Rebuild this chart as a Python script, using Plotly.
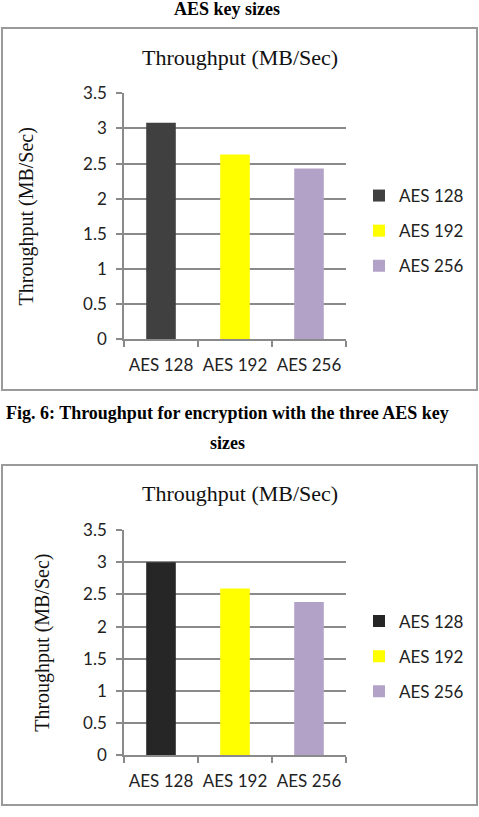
import plotly.graph_objects as go

W, H = 479, 817

categories = ["AES 128", "AES 192", "AES 256"]
top_values = [3.08, 2.63, 2.43]      # Fig. 6 chart (upper)
bottom_values = [3.00, 2.59, 2.38]   # lower chart
y_ticks = [0, 0.5, 1, 1.5, 2, 2.5, 3, 3.5]
y_tick_labels = ["0", "0.5", "1", "1.5", "2", "2.5", "3", "3.5"]
chart_title = "Throughput (MB/Sec)"
y_title = "Throughput (MB/Sec)"
caption_top = "AES key sizes"
caption_mid_1 = "Fig. 6: Throughput for encryption with the three AES key"
caption_mid_2 = "sizes"

top_colors = ["#404040", "#FFFF00", "#B3A2C7"]
bottom_colors = ["#262626", "#FFFF00", "#B3A2C7"]

SANS = "Lato, 'Open Sans', sans-serif"
SERIF = "'Liberation Serif', 'Times New Roman', serif"
GRID = "#8a8a8a"


def px_x(p):
    return p / W


def px_y(p):
    return 1 - p / H


fig = go.Figure()

for i, (cat, val, col) in enumerate(zip(categories, top_values, top_colors)):
    fig.add_trace(go.Bar(x=[cat], y=[val], name=cat, marker=dict(color=col, line=dict(width=0)),
                         width=0.4, xaxis="x", yaxis="y", legend="legend",
                         legendgroup="t" + str(i)))
for i, (cat, val, col) in enumerate(zip(categories, bottom_values, bottom_colors)):
    fig.add_trace(go.Bar(x=[cat], y=[val], name=cat, marker=dict(color=col, line=dict(width=0)),
                         width=0.4, xaxis="x2", yaxis="y2", legend="legend2",
                         legendgroup="b" + str(i)))

xcommon = dict(type="category", categoryorder="array", categoryarray=categories,
               showline=True, linecolor=GRID, linewidth=1.5, ticks="outside", tickson="boundaries",
               ticklen=6, tickcolor=GRID, tickwidth=1.5, showgrid=False, tickangle=0,
               ticklabelstandoff=10,
               tickfont=dict(family=SANS, size=17, color="#222"))


def ycommon(standoff):
    return dict(range=[0, 3.5], tickvals=y_ticks, ticktext=y_tick_labels, showgrid=True,
                gridcolor=GRID, gridwidth=1.5, showline=True, linecolor=GRID, linewidth=1.5,
                ticks="outside", ticklen=6, tickcolor=GRID, tickwidth=1.5, zeroline=False,
                tickfont=dict(family=SANS, size=17, color="#222"), ticklabelstandoff=6,
                automargin=False,
                title=dict(text=y_title, font=dict(family=SERIF, size=20, color="#111"),
                           standoff=standoff))


fig.update_layout(
    width=W, height=H, margin=dict(l=0, r=0, t=0, b=0),
    paper_bgcolor="white", plot_bgcolor="white",
    barmode="overlay",
    xaxis=dict(domain=[px_x(124), px_x(346)], anchor="y", **xcommon),
    yaxis=dict(domain=[px_y(339.3), px_y(93.3)], anchor="x", **ycommon(44)),
    xaxis2=dict(domain=[px_x(124), px_x(346)], anchor="y2", **xcommon),
    yaxis2=dict(domain=[px_y(755.3), px_y(530)], anchor="x2", **ycommon(28)),
    legend=dict(x=px_x(359), y=px_y(231), xanchor="left", yanchor="middle",
                font=dict(family=SANS, size=17, color="#222"), tracegroupgap=10,
                bgcolor="rgba(0,0,0,0)", itemwidth=30),
    legend2=dict(x=px_x(359), y=px_y(656.5), xanchor="left", yanchor="middle",
                 font=dict(family=SANS, size=17, color="#222"), tracegroupgap=10,
                 bgcolor="rgba(0,0,0,0)", itemwidth=30),
    showlegend=True,
)

# chart boxes
for y0, y1 in [(28, 390), (465, 805)]:
    fig.add_shape(type="rect", xref="paper", yref="paper",
                  x0=px_x(2), x1=px_x(477), y0=px_y(y1), y1=px_y(y0),
                  line=dict(color="#9a9a9a", width=2), fillcolor="rgba(0,0,0,0)", layer="below")

# chart titles
for yc in [58, 493]:
    fig.add_annotation(text=chart_title, xref="paper", yref="paper", x=px_x(240), y=px_y(yc),
                       xanchor="center", yanchor="middle", showarrow=False,
                       font=dict(family=SERIF, size=22, color="#111"))

# captions
fig.add_annotation(text="<b>" + caption_top + "</b>", xref="paper", yref="paper",
                   x=px_x(227), y=px_y(9), xanchor="center", yanchor="middle", showarrow=False,
                   font=dict(family=SERIF, size=18, color="#000"))
fig.add_annotation(text="<b>" + caption_mid_1 + "</b>", xref="paper", yref="paper",
                   x=px_x(227), y=px_y(413), xanchor="center", yanchor="middle", showarrow=False,
                   font=dict(family=SERIF, size=18, color="#000"))
fig.add_annotation(text="<b>" + caption_mid_2 + "</b>", xref="paper", yref="paper",
                   x=px_x(227), y=px_y(443), xanchor="center", yanchor="middle", showarrow=False,
                   font=dict(family=SERIF, size=18, color="#000"))

fig.write_html("out.html",
               post_script="document.body.style.margin='0';document.body.style.overflow='hidden';")
